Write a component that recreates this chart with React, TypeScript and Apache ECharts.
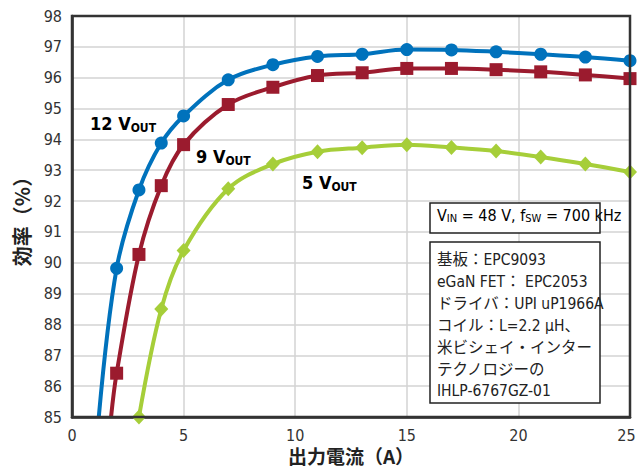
import React, { useEffect, useRef } from "react";
import * as echarts from "echarts";

const currents = [2, 3, 4, 5, 7, 9, 11, 13, 15, 17, 19, 21, 23, 25];
const eff12 = [89.82, 92.36, 93.88, 94.76, 95.93, 96.42, 96.69, 96.76, 96.91, 96.9, 96.84, 96.76, 96.67, 96.55];
const eff9 = [86.42, 90.27, 92.5, 93.83, 95.13, 95.69, 96.07, 96.16, 96.3, 96.3, 96.26, 96.19, 96.09, 95.97];
const eff5 = [null, 85.0, 88.5, 90.4, 92.4, 93.2, 93.6, 93.73, 93.83, 93.74, 93.62, 93.43, 93.2, 92.94];
// where each curve leaves the bottom of the plot (no marker)
const start12 = [1.2, 85.0];
const start9 = [1.75, 85.0];

const xTicks = [0, 5, 10, 15, 20, 25];
const yMin = 85;
const yMax = 98;
const xTitle = "出力電流（A）";
const yTitle = "効率（%）";

const infoLines = [
  "基板：EPC9093",
  "eGaN FET： EPC2053",
  "ドライバ：UPI uP1966A",
  "コイル：L=2.2 μH、",
  "米ビシェイ・インター",
  "テクノロジーの",
  "IHLP-6767GZ-01",
];

const BLUE = "#0072BC";
const RED = "#9B1B2E";
const GREEN = "#A6CE39";
const NARROW = "'Liberation Sans Narrow', 'DejaVu Sans Condensed', 'Noto Sans CJK JP', sans-serif";

function buildSeries(vals: (number | null)[], start: number[] | null) {
  const d: any[] = [];
  if (start) d.push({ value: start, symbol: "none" });
  currents.forEach((c, i) => {
    if (vals[i] != null) d.push([c, vals[i]]);
  });
  return d;
}

export default function App() {
  const ref = useRef<HTMLDivElement>(null);
  useEffect(() => {
    const chart = echarts.init(ref.current!, null, { renderer: "svg" });
    const subRich = (color: string) => ({
      m: { fontSize: 18, fontWeight: "bold", color, fontFamily: NARROW },
      s: { fontSize: 12, fontWeight: "bold", color, fontFamily: NARROW, padding: [9, 0, 0, 0] },
    });
    const infoGraphics = infoLines.map((t, i) => ({
      type: "text",
      left: 437,
      top: 250 + i * 21.9,
      z: 20,
      style: { text: t, fontSize: 15.5, lineHeight: 20, fontFamily: NARROW, fill: "#222" },
    }));
    const last = xTicks[xTicks.length - 1];
    chart.setOption({
      animation: false,
      grid: { left: 72, right: 7, top: 16, bottom: 49, containLabel: false, outerBoundsMode: "none" },
      xAxis: {
        type: "value",
        min: 0,
        max: 25,
        interval: 5,
        axisLine: { show: true, lineStyle: { color: "#222", width: 2.5 } },
        axisTick: { show: false },
        axisLabel: {
          fontSize: 16,
          lineHeight: 16,
          color: "#333",
          fontFamily: NARROW,
          margin: 10,
          formatter: (v: number) => (v === last ? "{e|" + v + "}" : xTicks.includes(v) ? String(v) : ""),
          rich: { e: { fontSize: 16, lineHeight: 16, color: "#333", fontFamily: NARROW, padding: [0, 7, 0, 0] } },
        },
        splitLine: { show: true, lineStyle: { color: "#d3d3d3", width: 1.5 } },
      },
      yAxis: {
        type: "value",
        min: yMin,
        max: yMax,
        interval: 1,
        name: yTitle,
        nameLocation: "middle",
        nameGap: 41,
        nameRotate: 90,
        nameTextStyle: { fontSize: 20, fontWeight: "bold", color: "#222", fontFamily: "'Noto Sans CJK JP', sans-serif" },
        axisLine: { show: true, lineStyle: { color: "#222", width: 2.5 } },
        axisTick: { show: false },
        axisLabel: { fontSize: 16, color: "#333", fontFamily: NARROW, margin: 10 },
        splitLine: { show: true, lineStyle: { color: "#d3d3d3", width: 1.5 } },
      },
      series: [
        {
          type: "line",
          data: buildSeries(eff12, start12),
          smooth: 0.35,
          symbol: "circle",
          symbolSize: 13,
          lineStyle: { color: BLUE, width: 4 },
          itemStyle: { color: BLUE },
          z: 5,
        },
        {
          type: "line",
          data: buildSeries(eff9, start9),
          smooth: 0.35,
          symbol: "rect",
          symbolSize: 13,
          lineStyle: { color: RED, width: 4 },
          itemStyle: { color: RED },
          z: 4,
        },
        {
          type: "line",
          data: buildSeries(eff5, null),
          smooth: 0.35,
          symbol: "diamond",
          symbolSize: [14, 15],
          lineStyle: { color: GREEN, width: 4 },
          itemStyle: { color: GREEN },
          z: 3,
        },
      ],
      graphic: [
        {
          type: "rect",
          shape: { x: 72, y: 16, width: 558, height: 401 },
          style: { fill: "none", stroke: "#333", lineWidth: 2.5 },
          z: 10,
          silent: true,
        },
        {
          type: "text",
          x: 351,
          y: 455,
          z: 20,
          style: {
            text: xTitle,
            fontSize: 19,
            lineHeight: 20,
            fontWeight: "bold",
            fill: "#222",
            fontFamily: "'Noto Sans CJK JP', sans-serif",
            align: "center",
            verticalAlign: "middle",
          },
        },
        { type: "text", left: 90, top: 115, z: 20, style: { text: "{m|12 V}{s|OUT}", rich: subRich(BLUE) } },
        { type: "text", left: 196, top: 148, z: 20, style: { text: "{m|9 V}{s|OUT}", rich: subRich(RED) } },
        { type: "text", left: 302, top: 174, z: 20, style: { text: "{m|5 V}{s|OUT}", rich: subRich(GREEN) } },
        {
          type: "rect",
          z: 15,
          shape: { x: 430, y: 203, width: 170, height: 30 },
          style: { fill: "#fff", stroke: "#222", lineWidth: 1.5 },
        },
        {
          type: "text",
          left: 437,
          top: 207,
          z: 20,
          style: {
            text: "{m|V}{s|IN}{m| = 48 V, f}{s|SW}{m| = 700 kHz}",
            rich: {
              m: { fontSize: 16, color: "#222", fontFamily: NARROW },
              s: { fontSize: 11, color: "#222", fontFamily: NARROW, padding: [7, 0, 0, 0] },
            },
          },
        },
        {
          type: "rect",
          z: 15,
          shape: { x: 430, y: 242, width: 170, height: 161 },
          style: { fill: "#fff", stroke: "#222", lineWidth: 1.5 },
        },
        ...infoGraphics,
      ],
    });
    return () => chart.dispose();
  }, []);
  return <div ref={ref} style={{ width: 637, height: 466, position: "absolute", left: 0, top: 0 }} />;
}
